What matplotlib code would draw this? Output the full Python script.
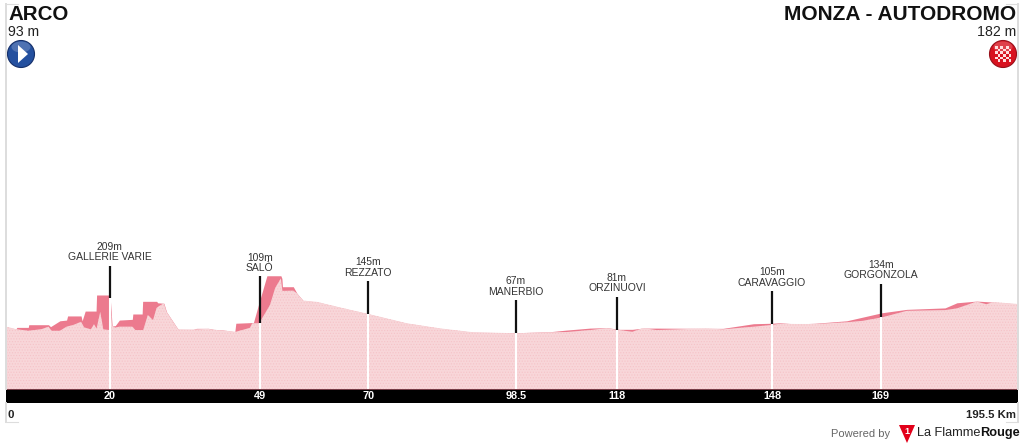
import matplotlib
matplotlib.use("Agg")
import matplotlib.pyplot as plt
from matplotlib.patches import Circle, Ellipse, Polygon, Rectangle

# profile: km, metres
top_km = [0, 1.9, 2.1, 4.3, 4.4, 8.2, 8.6, 10.4, 11.7, 11.9, 14.5, 14.7, 15.3, 17.4, 17.5, 20.1, 20.5, 21.1,
          21.9, 24.4, 24.5, 26.3, 26.4, 29.1, 29.3, 30.5, 31.0, 33.0, 33.3, 36.2, 36.8, 39.1, 40.1, 41.7, 44.2,
          44.4, 47.8, 48.7, 50.4, 53.1, 53.3, 53.4, 55.5, 56.2, 57.4, 60, 64.5, 70, 77.4, 83.8, 90.2, 98.5,
          105, 108.3, 112.8, 116, 118.5, 121, 123, 125.7, 135.3, 138.5, 144.4, 148, 149.5, 152.7, 156.3, 162.4,
          169.2, 174, 181.4, 183.7, 187.5, 190.7, 195.5]
top_m = [93, 83, 90, 90, 101, 101, 93, 117, 120, 137, 137, 117, 157, 157, 223, 223, 96, 97,
         120, 123, 145, 145, 197, 197, 191, 189, 154, 90, 82, 82, 86, 86, 82, 80, 72,
         107, 110, 178, 302, 302, 291, 257, 257, 230, 200, 195, 172, 145, 107, 86, 70, 68,
         72, 79, 87, 89, 82, 82, 87, 87, 86, 86, 105, 107, 109, 104, 107, 117,
         150, 164, 170, 191, 198, 194, 186]

ground_km = [0, 1.9, 4.3, 6.9, 8.2, 8.8, 10.4, 11.7, 13, 14.5, 15.1, 16.4, 17, 17.5, 18.2, 18.8, 20, 20.1, 20.5,
             21.1, 21.9, 24.4, 25, 26.5, 27.4, 28.4, 29.1, 29.6, 30.5, 31.0, 33.0, 33.3, 36.2, 36.8, 39.1, 40.1,
             41.7, 44.4, 47.1, 47.6, 48.9, 51.0, 52, 53.1, 53.4, 55.5, 56.2, 57.4, 60, 64.5, 70, 77.4,
             83.8, 90.2, 98.5, 105, 108.3, 112.8, 116, 118.5, 121, 123, 125.7, 135.3, 138.5, 144.4, 148, 149.5,
             152.7, 156.3, 162.4, 165.5, 169.2, 174, 181.4, 183.7, 187.5, 189.4, 190.7, 195.5]
ground_m = [93, 83, 76, 83, 93, 76, 76, 93, 100, 113, 90, 82, 103, 85, 154, 82, 79, 209, 96,
            89, 93, 93, 79, 79, 141, 120, 170, 178, 189, 154, 90, 82, 80, 82, 84, 80,
            78, 72, 88, 107, 107, 182, 252, 291, 240, 241, 230, 200, 195, 172, 145, 107,
            86, 70, 66, 70, 71, 79, 87, 79, 72, 87, 79, 86, 82, 93, 100, 105,
            104, 104, 111, 117, 131, 158, 161, 168, 196, 185, 194, 186]

place_names = ["GALLERIE VARIE", "SALÒ", "REZZATO", "MANERBIO", "ORZINUOVI", "CARAVAGGIO", "GORGONZOLA"]
place_km = [20, 49, 70, 98.5, 118, 148, 169]
place_m = [209, 109, 145, 67, 81, 105, 134]
stem_m = [135, 190, 135, 135, 135, 135, 135]
km_labels = ["20", "49", "70", "98.5", "118", "148", "169"]

start_name = "ARCO"
start_alt = "93 m"
finish_name = "MONZA - AUTODROMO"
finish_alt = "182 m"
total_km = 195.5

W, H = 1024, 448
SANS = ["Liberation Sans", "DejaVu Sans"]
plt.rcParams["font.family"] = SANS
plt.rcParams["hatch.linewidth"] = 0.5

fig = plt.figure(figsize=(W / 100, H / 100), dpi=100)
ax = fig.add_axes([6 / W, 1 - 389 / H, 1012 / W, 377 / H])
ax.set_xlim(0, total_km)
ax.set_ylim(-163, 1385)
for s in ax.spines.values():
    s.set_visible(False)
ax.set_yticks([])

# pink profile
ax.fill_between(top_km, -163, top_m, color="#ec7a8e", lw=0, zorder=2)
ax.fill_between(ground_km, -163, ground_m, facecolor="#f8d6d9", edgecolor="#f5c3c8", hatch="......", lw=0, zorder=3)

# place markers
ax.vlines(place_km, -163, place_m, color="white", lw=1.5, zorder=4)
stem_top = [m + s for m, s in zip(place_m, stem_m)]
ax.vlines(place_km, place_m, stem_top, color="#111111", lw=1.6, zorder=4)
for name, km, m, t in zip(place_names, place_km, place_m, stem_top):
    ax.annotate(name, (km, t), xytext=(0, 6), textcoords="offset points", ha="center", va="center",
                fontsize=7.5, color="#333333")
    ax.annotate(f"{m}m", (km, t), xytext=(0, 13.5), textcoords="offset points", ha="center", va="center",
                fontsize=7.4, color="#333333")

# km bar
ax.add_patch(Rectangle((0, -14 / 377), 1, 14 / 377, transform=ax.transAxes, fc="black", lw=0, clip_on=False, zorder=1))
ax.set_xticks(place_km, km_labels, color="white", fontsize=7.8, fontweight="bold")
ax.tick_params(axis="x", length=0, pad=1.2)

# furniture in pixel coordinates
ov = fig.add_axes([0, 0, 1, 1])
ov.set_xlim(0, W)
ov.set_ylim(H, 0)
ov.axis("off")
ov.patch.set_alpha(0)

for x0, x1, edge in [(6, 18, 6), (1006, 1018, 1018)]:
    ov.plot([edge, edge], [4, 389], color="#dddddd", lw=1.4)
    ov.plot([edge, edge], [403, 422], color="#dddddd", lw=1.4)
    ov.plot([x0, x1], [4, 4], color="#dddddd", lw=0.8)
    ov.plot([x0, x1], [422, 422], color="#dddddd", lw=0.8)

ov.text(8, 15, start_name, fontsize=14.8, fontweight="bold", va="center", color="#111111")
ov.text(8, 32, start_alt, fontsize=10.2, va="center", color="#222222")
ov.text(1016, 15, finish_name, fontsize=15, fontweight="bold", va="center", ha="right", color="#111111")
ov.text(1016, 32, finish_alt, fontsize=10.2, va="center", ha="right", color="#222222")

# start / finish badges
ov.add_patch(Circle((21, 54), 13.5, fc="#24509f", ec="#16306a", lw=0.8))
ov.add_patch(Ellipse((21, 47), 19, 11, fc="white", alpha=0.2, lw=0))
ov.add_patch(Polygon([(18, 45), (18, 63), (28, 54)], fc="white", lw=0))
ov.add_patch(Circle((1003, 54), 13.5, fc="#d8121f", ec="#98101a", lw=0.8))
ov.add_patch(Ellipse((1003, 47), 19, 11, fc="white", alpha=0.2, lw=0))
for i in range(6):
    for j in range(6):
        if (i + j) % 2 == 0:
            ov.add_patch(Rectangle((995 + i * 2.7, 46 + j * 2.7), 2.7, 2.7, fc="#ffdede", lw=0))

ov.text(8, 415.5, "0", fontsize=8.2, fontweight="bold", va="center", color="#222222")
ov.text(1016, 415.5, f"{total_km} Km", fontsize=8.2, fontweight="bold", va="center", ha="right", color="#222222")

# logo
ov.text(890, 434, "Powered by", fontsize=8, va="center", ha="right", color="#666666")
ov.add_patch(Polygon([(899, 425), (915, 425), (907, 443)], fc="#e2001a", lw=0))
ov.text(907, 431, "1", fontsize=6.5, fontweight="bold", va="center", ha="center", color="white")
t = ov.text(917, 433, "La Flamme", fontsize=9.2, va="center", color="#222222")
fig.canvas.draw()
ov.text(t.get_window_extent().x1, 433, "Rouge", fontsize=9.2, fontweight="bold", va="center", color="#111111")

fig.savefig("out.png", dpi=100)
